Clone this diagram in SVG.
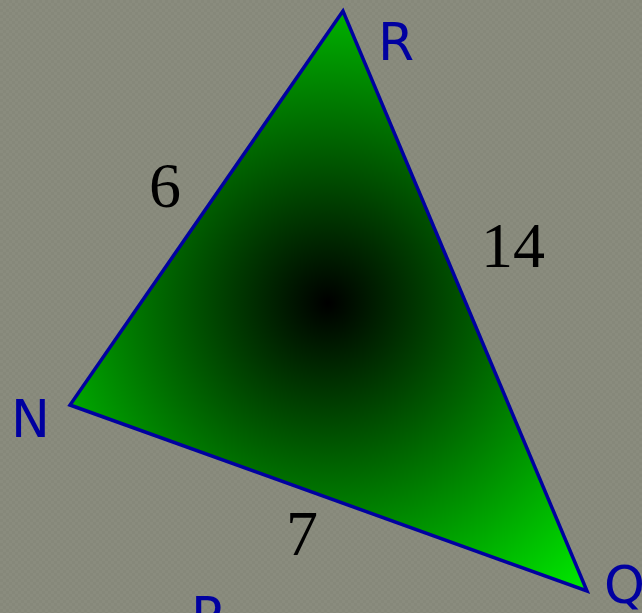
<svg xmlns="http://www.w3.org/2000/svg" width="642" height="613" viewBox="0 0 642 613">
<style>
.v{font-family:"DejaVu Sans",sans-serif;font-size:52px;fill:#0000a0}
.n{font-family:"Liberation Serif","Times New Roman",serif;font-size:64px;fill:#000}
</style>
<defs>
<pattern id="bg" width="6" height="6" patternUnits="userSpaceOnUse">
<rect width="6" height="6" fill="#86887a"/>
<rect width="3" height="3" fill="#8a8c7e"/>
<rect x="3" y="3" width="3" height="3" fill="#8a8c7e"/>
</pattern>
<radialGradient id="g" gradientUnits="userSpaceOnUse" cx="328" cy="303" r="420">
<stop offset="0" stop-color="#000"/>
<stop offset="1" stop-color="#00ff00"/>
</radialGradient>
</defs>
<rect width="642" height="613" fill="url(#bg)"/>
<g id="triangle">
<polygon points="343,11 70,405 587,591" fill="url(#g)" stroke="#0000a0" stroke-width="3.5" stroke-linejoin="miter"/>
</g>
<g id="labels">
<text class="v" x="378" y="60">R</text>
<text class="v" x="11" y="437">N</text>
<text class="v" x="604" y="603">Q</text>
<text class="v" x="191" y="634">P</text>
</g>
<g id="lengths">
<text class="n" x="149" y="207">6</text>
<text class="n" x="481" y="267">14</text>
<text class="n" x="286" y="555">7</text>
</g>
</svg>
